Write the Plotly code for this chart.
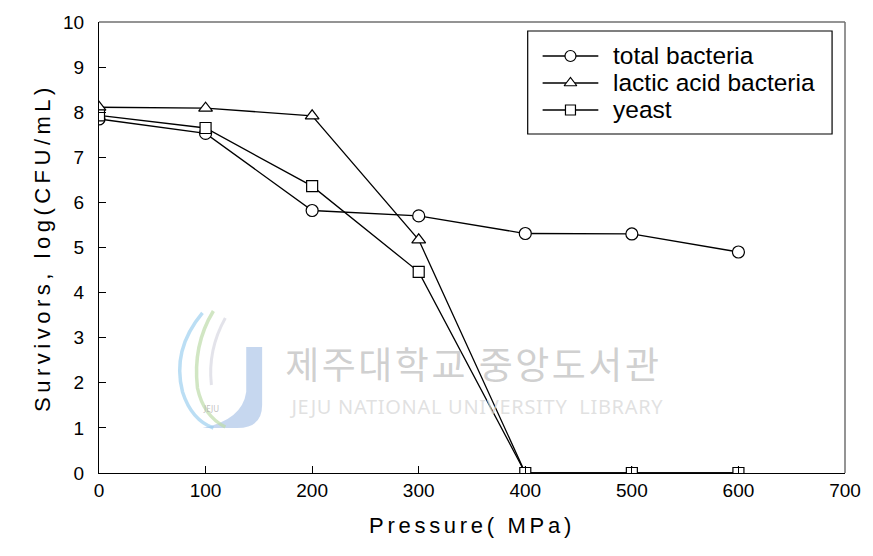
import plotly.graph_objects as go

# Pressure treatment levels (MPa)
pressure = [0, 100, 200, 300, 400, 500, 600]

# Surviving counts, log(CFU/mL)
total_bacteria = [7.85, 7.53, 5.82, 5.70, 5.31, 5.30, 4.90]
lactic_acid_bacteria = [8.11, 8.09, 7.92, 5.17, 0.0, 0.0, 0.0]
yeast = [7.93, 7.65, 6.36, 4.46, 0.0, 0.0, 0.0]

series_names = ["total bacteria", "lactic acid bacteria", "yeast"]
series_symbols = ["circle", "triangle-up", "square"]
x_ticks = [0, 100, 200, 300, 400, 500, 600, 700]
y_ticks = [0, 1, 2, 3, 4, 5, 6, 7, 8, 9, 10]

W, H = 873, 556
L, R, T, B = 99, 24, 22, 83
X_MAX, Y_MAX = 700, 10
PW, PH = W - L - R, H - T - B


def px_x(px):
    """pixel column -> data x"""
    return (px - L) * X_MAX / PW


def px_y(py):
    """pixel row -> data y"""
    return (H - B - py) * Y_MAX / PH


line_style = dict(color="black", width=1.3)
marker_line = dict(color="black", width=1.2)
marker_sizes = {"circle": 12, "triangle-up": 12, "square": 11}

fig = go.Figure()
for name, vals, sym in zip(series_names, [total_bacteria, lactic_acid_bacteria, yeast], series_symbols):
    fig.add_trace(go.Scatter(
        x=pressure, y=vals, name=name, mode="lines+markers", showlegend=False,
        line=line_style,
        marker=dict(symbol=sym, size=marker_sizes[sym], color="white", line=marker_line)))

# ---- library watermark (drawn underneath) ----
fig.add_annotation(x=px_x(476), y=px_y(363), xref="x", yref="y", text="제주대학교 중앙도서관",
                   showarrow=False,
                   font=dict(family="Noto Sans CJK KR", size=37, color="rgba(195,195,195,0.8)"))
fig.add_annotation(x=px_x(479), y=px_y(406), xref="x", yref="y",
                   text="JEJU NATIONAL UNIVERSITY  LIBRARY", showarrow=False,
                   font=dict(family="Noto Sans", size=20, color="rgba(215,215,215,0.75)"))


def path_px(cmds):
    out = []
    for c in cmds:
        if isinstance(c, str):
            out.append(c)
        else:
            out.append(f"{px_x(c[0]):.3f},{px_y(c[1]):.3f}")
    return " ".join(out)


# J emblem
fig.add_shape(type="path", layer="below", xref="x", yref="y",
              path=path_px(["M", (247, 347), "L", (263, 347), "L", (263, 405),
                            "Q", (263, 428), (238, 428), "L", (203, 428),
                            "Q", (243, 420), (247, 392), "Z"]),
              fillcolor="rgba(160,188,228,0.6)", line=dict(width=0))
fig.add_shape(type="path", layer="below", xref="x", yref="y",
              path=path_px(["M", (203, 313), "Q", (172, 350), (183, 392), "Q", (192, 420), (214, 428)]),
              line=dict(color="rgba(150,205,238,0.65)", width=3.5))
fig.add_shape(type="path", layer="below", xref="x", yref="y",
              path=path_px(["M", (214, 311), "Q", (193, 345), (198, 388), "Q", (204, 416), (226, 427)]),
              line=dict(color="rgba(190,220,170,0.7)", width=3.5))
fig.add_shape(type="path", layer="below", xref="x", yref="y",
              path=path_px(["M", (226, 318), "Q", (208, 350), (212, 385)]),
              line=dict(color="rgba(215,215,225,0.7)", width=3))
fig.add_annotation(x=px_x(212), y=px_y(408), xref="x", yref="y", text="JEJU", showarrow=False,
                   font=dict(family="Noto Sans", size=8, color="rgba(175,175,175,0.8)"))

# ---- grey top and right frame lines ----
fig.add_shape(type="line", xref="paper", yref="paper", x0=0, x1=1, y0=1, y1=1,
              line=dict(color="#707070", width=1.5))
fig.add_shape(type="line", xref="paper", yref="paper", x0=1, x1=1, y0=0, y1=1,
              line=dict(color="#707070", width=1.5))

# ---- legend box (under the sample markers) ----
LEG_X0, LEG_X1, LEG_Y0, LEG_Y1 = 530, 836, 31, 134
fig.add_shape(type="rect", xref="x", yref="y", layer="below",
              x0=px_x(LEG_X0), x1=px_x(LEG_X1), y0=px_y(LEG_Y0), y1=px_y(LEG_Y1),
              fillcolor="white", line=dict(color="black", width=1.2))
row_y = [56, 83, 110]
for name, sym, ry in zip(series_names, series_symbols, row_y):
    fig.add_shape(type="line", xref="x", yref="y", layer="below",
                  x0=px_x(545), x1=px_x(601), y0=px_y(ry), y1=px_y(ry),
                  line=dict(color="black", width=1.3))
    fig.add_trace(go.Scatter(
        x=[px_x(573)], y=[px_y(ry)], mode="markers", showlegend=False, hoverinfo="skip",
        marker=dict(symbol=sym, size=marker_sizes[sym] - 1, color="white", line=marker_line)))
    fig.add_annotation(x=px_x(614), y=px_y(ry - 1), xref="x", yref="y", text=name,
                       showarrow=False, xanchor="left", yanchor="middle",
                       font=dict(family="Liberation Sans, Arial", size=24.5, color="black"))

# ---- axis titles ----
fig.add_annotation(x=0.5, y=(H - B - 540) / PH, xref="paper", yref="paper",
                   text="Pressure( MPa)", showarrow=False,
                   font=dict(family="Liberation Sans, Arial", size=22, color="black"))
fig.add_annotation(x=(28 - L) / PW, y=0.5, xref="paper", yref="paper",
                   text="Survivors, log(CFU/mL)", showarrow=False, textangle=-90,
                   font=dict(family="Liberation Sans, Arial", size=22, color="black"))

fig.update_layout(
    width=W, height=H,
    margin=dict(l=L, r=R, t=T, b=B),
    paper_bgcolor="white", plot_bgcolor="white",
    showlegend=False,
)
fig.update_xaxes(range=[0, X_MAX], tickvals=x_ticks, ticks="inside", ticklen=7,
                 tickcolor="black", showline=True, linecolor="black", linewidth=1.3,
                 showgrid=False, zeroline=False,
                 tickfont=dict(family="Liberation Sans, Arial", size=19, color="black"))
fig.update_yaxes(range=[0, Y_MAX], tickvals=y_ticks, ticks="inside", ticklen=7,
                 tickcolor="black", showline=True, linecolor="black", linewidth=1.3,
                 showgrid=False, zeroline=False, ticklabelstandoff=10,
                 tickfont=dict(family="Liberation Sans, Arial", size=19, color="black"))

# widen the letter spacing of the titles and the watermark
spacing_js = """
var gd = document.getElementById('{plot_id}');
var spacing = {
  'Survivors, log(CFU/mL)': '4.5px',
  'Pressure( MPa)': '3.7px',
  '제주대학교 중앙도서관': '2.5px',
  'JEJU NATIONAL UNIVERSITY  LIBRARY': '0.7px'
};
gd.querySelectorAll('.annotation-text').forEach(function (t) {
  if (spacing[t.textContent]) { t.style.letterSpacing = spacing[t.textContent]; }
});
"""

fig.write_html("out.html", post_script=spacing_js)
